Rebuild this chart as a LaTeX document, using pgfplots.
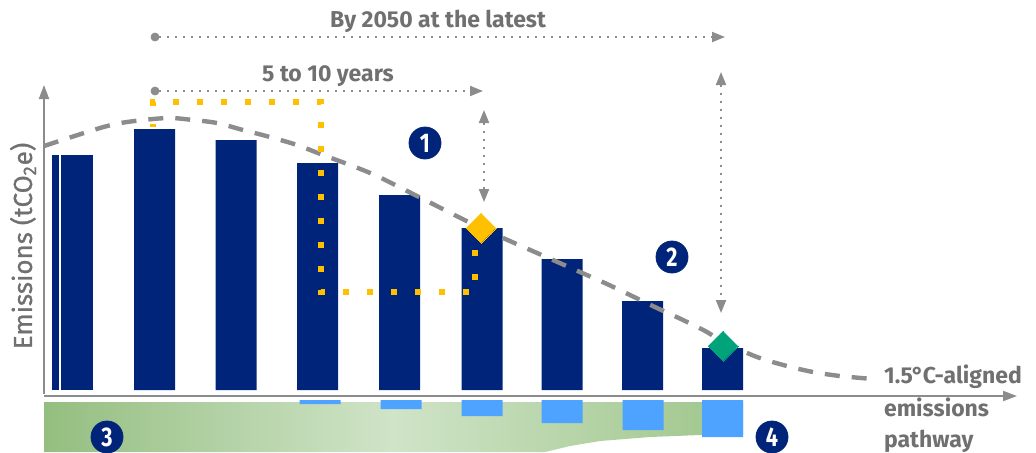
\documentclass[border=0pt]{standalone}
\usepackage{pgfplots}
\pgfplotsset{compat=1.18}
\usepackage{fontspec}
\setmainfont{Fira Sans}
\usetikzlibrary{arrows.meta}

\definecolor{navy}{RGB}{0,36,122}
\definecolor{lblue}{RGB}{77,163,255}
\definecolor{txtgray}{RGB}{112,112,112}
\definecolor{axgray}{RGB}{140,140,140}
\definecolor{ylw}{RGB}{255,192,0}
\definecolor{teal}{RGB}{0,163,122}
\definecolor{grA}{RGB}{148,190,128}
\definecolor{grB}{RGB}{208,228,200}
\definecolor{grC}{RGB}{158,197,138}

\pgfplotsset{pix/.style={hide axis, scale only axis, width=518pt, height=226pt,
  xmin=0, xmax=1036, clip=false, at={(0,0)}, anchor=south west}}

\begin{document}
\begin{tikzpicture}
% ---------- main layer (pixel coordinates, y downward) ----------
\begin{axis}[pix, ymin=0, ymax=452, y dir=reverse]
\addplot[draw=none] coordinates {(0,0) (1036,452)};
% green area
\addplot[draw=none, left color=grA, right color=grC, middle color=grB]
  coordinates {(44,402) (743,402) (743,435) (700,435) (650,437) (600,441) (570,446) (545,452) (44,452)} -- cycle;
\end{axis}

% ---------- light blue bars (baseline at py=400, values downward) ----------
\begin{axis}[pix, ymin=-52, ymax=400]
\addplot[ybar, bar width=41, bar shift=0, fill=lblue, draw=none]
  coordinates {(320,-4) (401,-9) (482,-16) (562,-23) (643,-30) (722.5,-37)};
\end{axis}

% ---------- navy bars (baseline at py=390) ----------
\begin{axis}[pix, ymin=-62, ymax=390]
\addplot[ybar, bar width=7, bar shift=0, fill=navy, draw=none]
  coordinates {(55.5,235)};
\addplot[ybar, bar width=32, bar shift=0, fill=navy, draw=none]
  coordinates {(77,235)};
\addplot[ybar, bar width=41, bar shift=0, fill=navy, draw=none]
  coordinates {(154.5,261) (236,250) (317.5,227) (399.5,195) (482,162) (562,131) (642.5,89) (722.5,42)};
\end{axis}

% ---------- overlay ----------
\begin{axis}[pix, ymin=0, ymax=452, y dir=reverse]
% axes
\addplot[axgray, line width=1pt, -{Triangle[length=7pt,width=5pt]}]
  coordinates {(44,394) (44,85)};
\addplot[axgray, line width=1pt, -{Triangle[length=7pt,width=5pt]}]
  coordinates {(44,396) (1017,396)};
% 1.5C pathway
\addplot[axgray, line width=2.2pt, dash pattern=on 7.5pt off 6pt, smooth, tension=0.5]
  coordinates {(44,146) (100,128) (127,122) (167,118) (193,120) (217,123) (243,130)
  (270,137) (297,145) (323,155) (350,165) (377,176) (423,199) (481,228) (553,260)
  (580,272) (607,284) (630,295) (657,308) (683,320) (707,332) (723,342) (757,357)
  (787,366) (813,372) (840,376) (873,379)};
% yellow dotted path
\addplot[ylw, line width=3.3pt, dash pattern=on 3.3pt off 8.7pt, dash phase=1.6pt]
  coordinates {(153,127) (153,102) (321,102) (321,292) (475,292) (475,240)};
% diamonds
\addplot[ylw, only marks, mark=square*, mark size=5.3pt, mark options={rotate=45, fill=ylw, draw=ylw, line width=0pt}]
  coordinates {(481,228)};
\addplot[teal, only marks, mark=square*, mark size=5.3pt, mark options={rotate=45, fill=teal, draw=teal, line width=0pt}]
  coordinates {(723,346)};
% gray dotted arrows
\addplot[axgray, line width=1pt, dash pattern=on 1pt off 3pt, -{Triangle[length=6.5pt,width=5pt]}]
  coordinates {(159,37) (725,37)};
\addplot[axgray, line width=1pt, dash pattern=on 1pt off 3pt, -{Triangle[length=6.5pt,width=5pt]}]
  coordinates {(159,91) (483,91)};
\addplot[axgray, line width=1pt, dash pattern=on 1pt off 3pt, {Triangle[length=6.5pt,width=5pt]}-{Triangle[length=6.5pt,width=5pt]}]
  coordinates {(484,110) (484,202)};
\addplot[axgray, line width=1pt, dash pattern=on 1pt off 3pt, {Triangle[length=6.5pt,width=5pt]}-{Triangle[length=6.5pt,width=5pt]}]
  coordinates {(721,72) (721,313)};
\addplot[only marks, mark=*, mark size=2pt, axgray] coordinates {(155,37) (155,91)};
% numbered circles
\addplot[only marks, mark=*, mark size=8pt, navy, nodes near coords, point meta=explicit symbolic,
  nodes near coords style={anchor=center, text=white, xscale=0.8, inner sep=0pt, font=\bfseries\fontsize{13.5}{13.5}\selectfont}]
  coordinates {(425,143)[1] (672,257)[2] (107,437)[3] (772,437)[4]};
% texts
\node[txtgray, font=\bfseries\fontsize{11.5}{12}\selectfont] at (axis cs:438,21) {By 2050 at the latest};
\node[txtgray, font=\bfseries\fontsize{11.5}{12}\selectfont] at (axis cs:328,76) {5 to 10 years};
\node[txtgray, font=\bfseries\fontsize{11.5}{12}\selectfont, anchor=base west] at (axis cs:877,383) {1.5\kern-0.5pt°\kern-0.5pt C-aligned};
\node[txtgray, font=\bfseries\fontsize{11.5}{12}\selectfont, anchor=base west] at (axis cs:877,416) {emissions};
\node[txtgray, font=\bfseries\fontsize{11.5}{12}\selectfont, anchor=base west] at (axis cs:877,447) {pathway};
\node[txtgray, font=\fontsize{13}{14}\selectfont\addfontfeature{FakeBold=1}, rotate=90] at (axis cs:23,246) {Emissions (tCO\textsubscript{2}e)};
\end{axis}
\pgfresetboundingbox
\path[use as bounding box] (0,0) rectangle (518pt,226pt);
\end{tikzpicture}
\end{document}
